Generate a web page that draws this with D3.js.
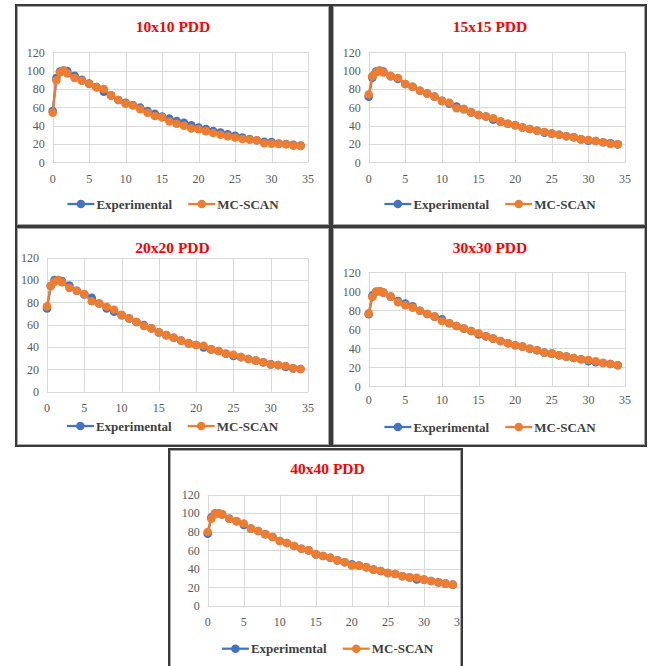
<!DOCTYPE html>
<html>
<head>
<meta charset="utf-8">
<script src="https://cdn.jsdelivr.net/npm/d3@7"></script>
<style>
  body { margin: 0; background: #fff; }
  svg { display: block; }
</style>
</head>
<body>
<div id="chart"></div>
<script>
var width = 648,
  height = 666;

// depth (cm)
var depths = [0, 0.5, 1, 1.5, 2, 3, 4, 5, 6, 7, 8, 9, 10, 11, 12, 13, 14, 15, 16, 17, 18, 19, 20,
  21, 22, 23, 24, 25, 26, 27, 28, 29, 30, 31, 32, 33, 34];

var exp10 = [56, 92, 99, 100, 99.5, 94.5, 90, 86, 82, 77, 73, 68, 65, 62.5, 59.6, 56, 53, 50, 47.6, 45, 43,
  40.4, 38, 36.4, 34, 32.4, 30.5, 29, 27, 25.5, 24, 22.5, 22.2, 20.4, 20, 19, 18.2];
var mc10 = [54, 89.5, 98, 100, 97, 92, 89, 85.5, 82, 80, 73, 68, 64, 62, 58, 54, 50.5, 49, 44.5, 42, 40,
  37, 36, 34, 32, 30, 28.4, 27, 25.5, 24.7, 24, 20.7, 20.4, 20, 19.6, 18.2, 17.8];

var exp15 = [71.6, 92.4, 99, 100, 99, 94, 91, 85.5, 82.5, 78, 75, 71.6, 67, 64, 60.7, 58, 54.5, 51.6, 50,
  46.5, 44.4, 42, 40.4, 38, 36.4, 34.5, 32.4, 31.3, 30, 28.4, 27.3, 25, 23.6, 23.3, 21.8, 20.7, 19.6];
var mc15 = [74, 94, 98, 100, 98, 94, 92, 85.5, 82.5, 78, 75, 71.6, 67, 65, 59, 58, 54.5, 51.6, 50,
  48, 44.4, 42, 40.4, 38, 36.4, 34.5, 33, 31.3, 30, 28.4, 27.3, 25, 24.4, 23.3, 21.8, 20, 19.6];

var exp20 = [74.6, 94.6, 100, 100, 99, 95, 90.4, 87, 84, 79, 74.6, 71.6, 68.6, 65.7, 62.4, 59.7, 56.7, 53.1,
  50.7, 48.3, 45.7, 43.3, 41.8, 39.7, 37.9, 36.4, 34, 32, 31, 29.3, 27.8, 26.3, 24.5, 23.9, 22.1, 20.9, 20.3];
var mc20 = [76.4, 94.6, 98.5, 100, 98, 93, 90.4, 87.5, 81, 79, 76, 73.4, 68.6, 65.7, 62.4, 58.8, 56.7, 53.1,
  50.7, 48.3, 45.7, 43.3, 41.8, 41.2, 37.9, 36.4, 34, 33.1, 31, 29.3, 27.8, 26.3, 24.5, 23.9, 23, 20.9, 20.3];

var exp30 = [75.8, 95.4, 99.6, 100, 98.6, 94.4, 89.8, 87, 84.2, 79.6, 76.1, 73.3, 70.5, 66.3, 63.5, 60.7, 58.2,
  54.7, 52.6, 50.2, 47.7, 45.3, 43.2, 41.8, 39.6, 37.9, 35.4, 34.4, 32.6, 31.2, 29.8, 28.4, 26.3, 25.3, 24.6, 23.5, 22.1];
var mc30 = [76.8, 94, 99.6, 100, 98.6, 94.4, 88.4, 85.3, 82.8, 79.6, 76.1, 73.3, 68.8, 66.3, 63.5, 60.7, 58.2,
  55.8, 52.6, 50.2, 47.7, 45.3, 43.2, 41.8, 39.6, 37.9, 35.4, 34.4, 32.6, 31.2, 29.8, 28.4, 27.7, 26.3, 24.6, 23.5, 22.1];

var exp40 = [78, 95.3, 99.6, 100, 98.8, 94, 91.3, 87.3, 83.4, 80.8, 77.3, 74.4, 70.1, 67.9, 64.7, 61.8, 60,
  55.7, 53.9, 52.1, 49.2, 47.1, 44.9, 43.5, 41.7, 39.2, 37.7, 35.6, 34.5, 32, 30.9, 28.7, 28.4, 27, 25.5, 24.1, 23];
var mc40 = [79.8, 94, 99.6, 100, 98.8, 94, 91.3, 89, 83.4, 80.8, 77.3, 74.4, 70.1, 67.9, 64.7, 61.8, 60,
  55.7, 53.9, 52.1, 49.2, 47.1, 43.8, 43.5, 41.7, 39.2, 37.7, 35.6, 34.5, 32, 30.9, 30.5, 28.4, 27, 25.5, 24.1, 23];

var titles = ["10x10 PDD", "15x15 PDD", "20x20 PDD", "30x30 PDD", "40x40 PDD"];
var seriesNames = ["Experimental", "MC-SCAN"];
var xTicks = [0, 5, 10, 15, 20, 25, 30, 35];
var yTicks = [0, 20, 40, 60, 80, 100, 120];

var colors = ["#4472c4", "#ed7d31"];

// frame box, content centre, plot area, text rows
var panels = [
  { frame: [15, 4, 331, 227], cx: 173, plot: [52.7, 52.3, 308, 162.3], title: 26.7, ticks: 179, legend: 204, exp: exp10, mc: mc10 },
  { frame: [331, 4, 647, 227], cx: 490, plot: [368.7, 52.3, 625, 162.3], title: 26.7, ticks: 179, legend: 204, exp: exp15, mc: mc15 },
  { frame: [15, 226, 331, 447], cx: 172.5, plot: [47, 257.7, 308, 391.7], title: 248, ticks: 407.7, legend: 426, exp: exp20, mc: mc20 },
  { frame: [331, 226, 647, 447], cx: 490, plot: [368.7, 272.3, 625, 386.3], title: 247.7, ticks: 400, legend: 427, exp: exp30, mc: mc30 },
  { frame: [168, 448, 463, 672], cx: 327.5, plot: [207.7, 494.7, 460, 606], title: 468.7, ticks: 622, legend: 648.7, exp: exp40, mc: mc40 }
];

var svg = d3.select("#chart").append("svg")
  .attr("width", width)
  .attr("height", height);

svg.append("rect").attr("width", width).attr("height", height).attr("fill", "#fff");

var serif = "'Liberation Serif', 'Times New Roman', serif";

panels.forEach(function(p, i) {
  var f = p.frame;
  var clipId = "clip" + i;
  svg.append("clipPath").attr("id", clipId)
    .append("rect")
    .attr("x", f[0] + 2).attr("y", f[1] + 2)
    .attr("width", f[2] - f[0] - 4).attr("height", f[3] - f[1] - 4);

  var g = svg.append("g").attr("clip-path", "url(#" + clipId + ")");

  var x = d3.scaleLinear().domain([0, 35]).range([p.plot[0], p.plot[2]]);
  var y = d3.scaleLinear().domain([0, 120]).range([p.plot[3], p.plot[1]]);

  // gridlines
  g.selectAll("line.gx").data(xTicks).enter().append("line")
    .attr("x1", function(d) { return Math.round(x(d)) + 0.5; })
    .attr("x2", function(d) { return Math.round(x(d)) + 0.5; })
    .attr("y1", y(120)).attr("y2", y(0))
    .attr("stroke", "#d9d9d9").attr("stroke-width", 1);
  g.selectAll("line.gy").data(yTicks).enter().append("line")
    .attr("y1", function(d) { return Math.round(y(d)) + 0.5; })
    .attr("y2", function(d) { return Math.round(y(d)) + 0.5; })
    .attr("x1", x(0)).attr("x2", x(35))
    .attr("stroke", "#d9d9d9").attr("stroke-width", 1);

  // tick labels
  g.selectAll("text.yt").data(yTicks).enter().append("text")
    .attr("x", x(0) - 8)
    .attr("y", function(d) { return y(d); })
    .attr("dy", "0.35em")
    .attr("text-anchor", "end")
    .style("font-family", serif).style("font-size", "12px").style("fill", "#595959")
    .text(function(d) { return d; });
  g.selectAll("text.xt").data(xTicks).enter().append("text")
    .attr("x", function(d) { return x(d); })
    .attr("y", p.ticks)
    .attr("dy", "0.35em")
    .attr("text-anchor", "middle")
    .style("font-family", serif).style("font-size", "12px").style("fill", "#595959")
    .text(function(d) { return d; });

  // series
  var line = d3.line()
    .x(function(d, j) { return x(depths[j]); })
    .y(function(d) { return y(d); });

  [p.exp, p.mc].forEach(function(vals, k) {
    g.append("path")
      .datum(vals)
      .attr("d", line)
      .attr("fill", "none")
      .attr("stroke", colors[k])
      .attr("stroke-width", 2.25)
      .attr("stroke-linejoin", "round");
    g.selectAll("circle.s" + k).data(vals).enter().append("circle")
      .attr("cx", function(d, j) { return x(depths[j]); })
      .attr("cy", function(d) { return y(d); })
      .attr("r", 4.3)
      .attr("fill", colors[k]);
  });

  // title
  g.append("text")
    .attr("x", p.cx).attr("y", p.title).attr("dy", "0.35em")
    .attr("text-anchor", "middle")
    .style("font-family", serif).style("font-size", "15.5px").style("font-weight", "bold")
    .style("fill", "#ff0000")
    .text(titles[i]);

  // legend
  var leg = g.append("g");
  var lx = 0;
  seriesNames.forEach(function(name, k) {
    if (k > 0) lx += 16;
    leg.append("line")
      .attr("x1", lx).attr("x2", lx + 27)
      .attr("y1", p.legend).attr("y2", p.legend)
      .attr("stroke", colors[k]).attr("stroke-width", 2.25);
    leg.append("circle")
      .attr("cx", lx + 13.5).attr("cy", p.legend).attr("r", 4.3)
      .attr("fill", colors[k]);
    var t = leg.append("text")
      .attr("x", lx + 29).attr("y", p.legend).attr("dy", "0.35em")
      .style("font-family", serif).style("font-size", "13px").style("font-weight", "bold")
      .style("fill", "#404040")
      .text(name);
    lx += 29 + t.node().getComputedTextLength();
  });
  leg.attr("transform", "translate(" + (p.cx - lx / 2) + ",0)");

  // frame: dark outer line, light inner line
  svg.append("rect")
    .attr("x", f[0] + 1).attr("y", f[1] + 1)
    .attr("width", f[2] - f[0] - 2).attr("height", f[3] - f[1] - 2)
    .attr("fill", "none").attr("stroke", "#3a3a3a").attr("stroke-width", 2);
  svg.append("rect")
    .attr("x", f[0] + 2.5).attr("y", f[1] + 2.5)
    .attr("width", f[2] - f[0] - 5).attr("height", f[3] - f[1] - 5)
    .attr("fill", "none").attr("stroke", "#a6a6a6").attr("stroke-width", 1);
});
</script>
</body>
</html>
